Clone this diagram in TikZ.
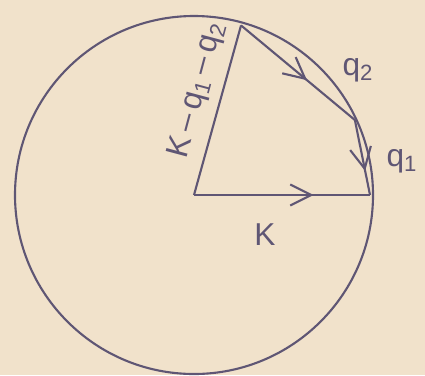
\documentclass[tikz,border=0pt]{standalone}
\usepackage{fontspec}
\setmainfont{Liberation Sans}
\usetikzlibrary{arrows.meta,decorations.markings}
\definecolor{Paper}{HTML}{F1E2CB}
\definecolor{Ink}{HTML}{5F5674}
\tikzset{
  sphere line/.style={draw=Ink,line width=1.2pt},
  vector line/.style={draw=Ink,line width=1.2pt,line join=round},
  vector arrow/.style={vector line,postaction={decorate},
    decoration={markings,mark=at position #1 with {\arrow{Straight Barb[length=12pt,width=12pt,line width=1.2pt]}}}},
  vector label/.style={font=\fontsize{18}{18}\selectfont,text=Ink,inner sep=1pt}
}
\begin{document}
\begin{tikzpicture}
  % paper and frame
  \fill[Paper] (-3.88,-3.6) rectangle (4.62,3.9);
  \useasboundingbox (-3.88,-3.6) rectangle (4.62,3.9);
  \coordinate (O) at (0,0);
  \coordinate (kend) at (0:3.52);
  \coordinate (qmid) at (25:3.55);
  \coordinate (qtop) at (74.5:3.52);
  \draw[sphere line] (O) circle (3.58);
  \draw[vector arrow=0.68] (O) -- (kend);
  \draw[vector arrow=0.58] (qtop) -- (qmid);
  \draw[vector arrow=0.68] (qmid) -- (kend);
  \draw[vector line] (O) -- (qtop);
  \node[vector label] (klabel) at (1.42,-0.8) {K};
  \node[vector label] (q2label) at (3.28,2.5) {q\textsubscript{2}};
  \node[vector label] (q1label) at (4.16,0.68) {q\textsubscript{1}};
  \node[vector label,rotate=75] (difflabel) at (0.06,2.1)
    {K\,–\,q\textsubscript{1}\,–\,q\textsubscript{2}};
\end{tikzpicture}
\end{document}
